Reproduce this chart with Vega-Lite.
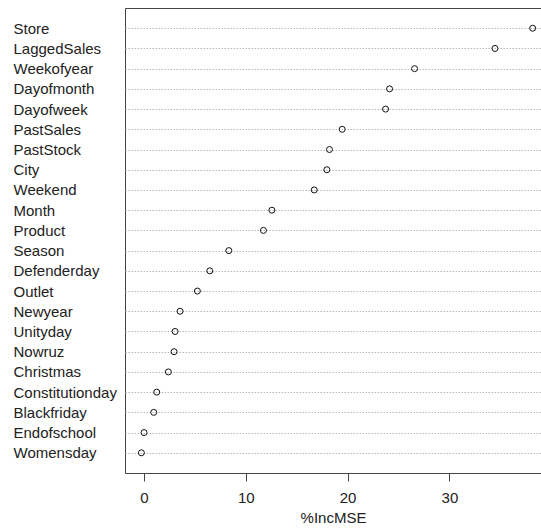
{
  "$schema": "https://vega.github.io/schema/vega-lite/v6.json",
  "autosize": {"type": "none"},
  "padding": {"left": 125, "top": 8, "right": 0, "bottom": 56},
  "width": 416,
  "height": 465,
  "background": "white",
  "config": {
    "view": {"stroke": "#444", "strokeWidth": 1},
    "font": "Liberation Sans"
  },
  "data": {
    "values": [
      {"var": "Store", "IncMSE": 38.18},
      {"var": "LaggedSales", "IncMSE": 34.48},
      {"var": "Weekofyear", "IncMSE": 26.58},
      {"var": "Dayofmonth", "IncMSE": 24.12},
      {"var": "Dayofweek", "IncMSE": 23.73},
      {"var": "PastSales", "IncMSE": 19.47},
      {"var": "PastStock", "IncMSE": 18.22},
      {"var": "City", "IncMSE": 17.96},
      {"var": "Weekend", "IncMSE": 16.72},
      {"var": "Month", "IncMSE": 12.56},
      {"var": "Product", "IncMSE": 11.73},
      {"var": "Season", "IncMSE": 8.33},
      {"var": "Defenderday", "IncMSE": 6.46},
      {"var": "Outlet", "IncMSE": 5.24},
      {"var": "Newyear", "IncMSE": 3.54},
      {"var": "Unityday", "IncMSE": 3.05},
      {"var": "Nowruz", "IncMSE": 2.95},
      {"var": "Christmas", "IncMSE": 2.39},
      {"var": "Constitutionday", "IncMSE": 1.25},
      {"var": "Blackfriday", "IncMSE": 0.95},
      {"var": "Endofschool", "IncMSE": 0.0},
      {"var": "Womensday", "IncMSE": -0.26}
    ]
  },
  "mark": {"type": "point", "shape": "circle", "filled": false, "color": "#111", "size": 36, "strokeWidth": 1, "opacity": 1},
  "encoding": {
    "y": {
      "field": "var",
      "type": "nominal",
      "sort": null,
      "scale": {"type": "point", "padding": 1},
      "axis": {
        "title": null,
        "domain": false,
        "ticks": false,
        "labelAlign": "left",
        "labelPadding": 112,
        "labelFontSize": 15,
        "labelColor": "#222",
        "labelLimit": 200,
        "grid": true,
        "gridColor": "#b8b8b8",
        "gridDash": [1.5, 1.5],
        "gridWidth": 1
      }
    },
    "x": {
      "field": "IncMSE",
      "type": "quantitative",
      "scale": {"domain": [-1.87, 39.0], "nice": false, "zero": false},
      "axis": {
        "title": "%IncMSE",
        "titleFontSize": 15,
        "titleFontWeight": "normal",
        "titleColor": "#222",
        "titlePadding": 5,
        "values": [0, 10, 20, 30],
        "grid": false,
        "domain": false,
        "tickSize": 8,
        "tickColor": "#444",
        "labelPadding": 9,
        "labelFontSize": 15,
        "labelColor": "#222"
      }
    }
  }
}
